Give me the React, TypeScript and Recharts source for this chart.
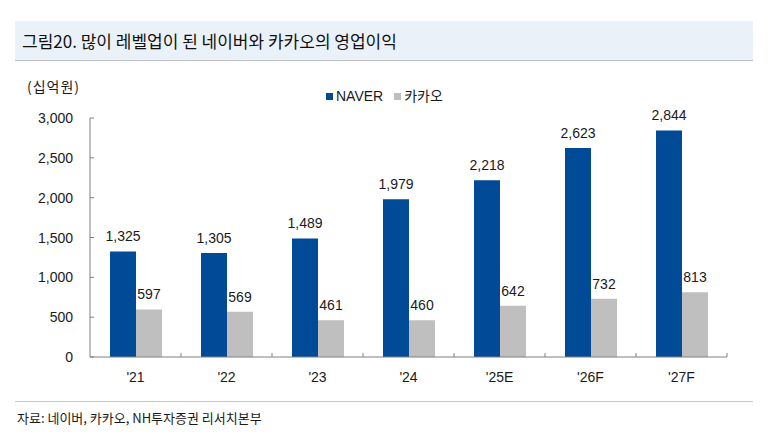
import { Bar, BarChart, LabelList, XAxis, YAxis } from 'recharts'

const categories = ["'21", "'22", "'23", "'24", "'25E", "'26F", "'27F"]
const naverProfit = [1325, 1305, 1489, 1979, 2218, 2623, 2844]
const kakaoProfit = [597, 569, 461, 460, 642, 732, 813]
const yTicks = [0, 500, 1000, 1500, 2000, 2500, 3000]

const seriesNames = { naver: 'NAVER', kakao: '카카오' }
const colors = { naver: '#004A97', kakao: '#BFBFBF' }

const data = categories.map((year, i) => ({
  year,
  naver: naverProfit[i],
  kakao: kakaoProfit[i],
}))

const FONT = '"Liberation Sans Narrow", "Arial Narrow", "Liberation Sans", Arial, "Noto Sans CJK KR", sans-serif'
const KFONT = '"Noto Sans CJK KR", "Liberation Sans", sans-serif'
const AXIS = '#808080'
const TEXT = '#1a1a1a'

const fmt = (v: number) => v.toLocaleString('en-US')

function XTick(props: any) {
  const { x, y, payload, width, visibleTicksCount } = props
  const band = width && visibleTicksCount ? width / visibleTicksCount : 91
  return (
    <g>
      <line x1={x + band / 2} x2={x + band / 2} y1={y} y2={y - 4} stroke={AXIS} />
      <text x={x} y={y + 25} textAnchor="middle" fontSize={14} fill={TEXT} fontFamily={FONT}>
        {payload.value}
      </text>
    </g>
  )
}

function YTick(props: any) {
  const { x, y, payload } = props
  return (
    <g>
      <line x1={x + 17} x2={x + 21} y1={y} y2={y} stroke={AXIS} />
      <text x={x} y={y + 5} textAnchor="end" fontSize={14} fill={TEXT} fontFamily={FONT}>
        {fmt(payload.value)}
      </text>
    </g>
  )
}

function ChartLegend() {
  const items = [
    { key: 'naver', label: seriesNames.naver, color: colors.naver },
    { key: 'kakao', label: seriesNames.kakao, color: colors.kakao },
  ]
  return (
    <div
      style={{
        position: 'absolute',
        left: 326,
        top: 88,
        display: 'flex',
        alignItems: 'center',
        fontSize: 14,
        lineHeight: '17px',
        color: TEXT,
        fontFamily: FONT,
      }}
    >
      {items.map((it) => (
        <div key={it.key} style={{ display: 'flex', alignItems: 'center', marginRight: 11 }}>
          <span style={{ width: 7, height: 7, background: it.color, marginRight: 3, display: 'inline-block' }} />
          <span>{it.label}</span>
        </div>
      ))}
    </div>
  )
}

export default function App() {
  return (
    <div style={{ position: 'relative', width: 768, height: 442, background: '#fff', overflow: 'hidden' }}>
      <style>{'body{margin:0}'}</style>
      <div
        style={{
          position: 'absolute',
          left: 15,
          top: 21,
          width: 738,
          height: 40,
          background: '#EBF1F8',
          borderBottom: '1px solid #BFC3C8',
          boxSizing: 'border-box',
          paddingLeft: 7,
          display: 'flex',
          alignItems: 'center',
          fontFamily: KFONT,
          fontSize: 17,
          color: '#111',
        }}
      >
        그림20. 많이 레벨업이 된 네이버와 카카오의 영업이익
      </div>
      <div
        style={{
          position: 'absolute',
          left: 27,
          top: 76,
          fontFamily: KFONT,
          fontSize: 14,
          color: TEXT,
          letterSpacing: 1,
        }}
      >
        (십억원)
      </div>
      <ChartLegend />
      <div style={{ position: 'absolute', left: 0, top: 0 }}>
        <BarChart
          width={768}
          height={442}
          data={data}
          margin={{ top: 118, right: 41, bottom: 55, left: 30 }}
          barGap={0}
        >
          <XAxis
            dataKey="year"
            height={30}
            tickSize={0}
            tickMargin={0}
            tickLine={false}
            axisLine={{ stroke: AXIS }}
            tick={<XTick />}
            interval={0}
          />
          <YAxis
            width={60}
            domain={[0, 3000]}
            ticks={yTicks}
            tickSize={0}
            tickMargin={17}
            tickLine={false}
            axisLine={{ stroke: AXIS }}
            tick={<YTick />}
            interval={0}
          />
          <Bar dataKey="naver" name={seriesNames.naver} fill={colors.naver} barSize={26} isAnimationActive={false}>
            <LabelList dataKey="naver" position="top" offset={10} formatter={(v: any) => fmt(Number(v))} style={{ fontSize: 14, fill: TEXT, fontFamily: FONT }} />
          </Bar>
          <Bar dataKey="kakao" name={seriesNames.kakao} fill={colors.kakao} barSize={26} isAnimationActive={false}>
            <LabelList dataKey="kakao" position="top" offset={10} formatter={(v: any) => fmt(Number(v))} style={{ fontSize: 14, fill: TEXT, fontFamily: FONT }} />
          </Bar>
        </BarChart>
      </div>
      <div style={{ position: 'absolute', left: 15, top: 401, width: 738, height: 1, background: '#C8C8C8' }} />
      <div
        style={{
          position: 'absolute',
          left: 17,
          top: 408,
          fontFamily: KFONT,
          fontSize: 13,
          color: TEXT,
        }}
      >
        자료: 네이버, 카카오, NH투자증권 리서치본부
      </div>
    </div>
  )
}
